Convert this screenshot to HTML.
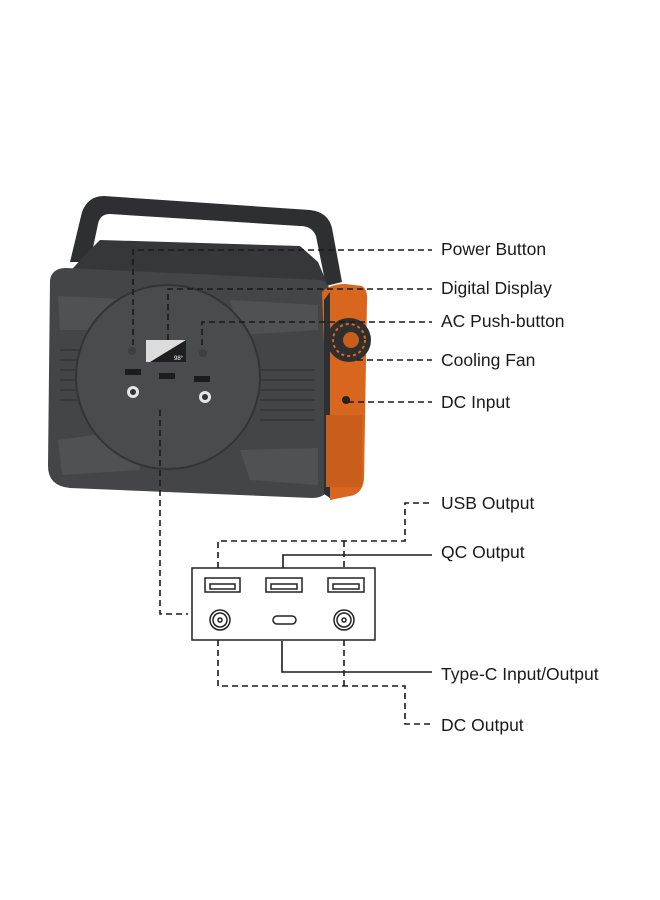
<!DOCTYPE html>
<html><head><meta charset="utf-8"><style>
html,body{margin:0;padding:0;background:#fff;}
svg{display:block;}
text{font-family:"Liberation Sans",sans-serif;font-size:17.5px;fill:#1a1a1a;}
</style></head><body>
<svg width="660" height="900" viewBox="0 0 660 900" xmlns="http://www.w3.org/2000/svg">
<!-- handle -->
<path d="M70 262 L82 212 Q88 196 104 196 L310 210 Q328 212 332 228 L342 282 L326 286 L316 236 Q312 226 300 226 L110 214 Q100 214 98 224 L90 262 Z" fill="#2e2f31"/>
<!-- top lid -->
<path d="M88 252 L100 240 L300 246 L318 262 L330 290 L60 282 Z" fill="#363739"/>
<!-- body -->
<path d="M50 280 Q52 268 66 268 L320 280 Q330 282 330 296 L330 480 Q330 498 312 498 L70 488 Q48 486 48 466 Z" fill="#444547"/>
<path d="M58 296 L140 300 L130 330 L60 330 Z" fill="#505153"/>
<path d="M58 440 L130 430 L140 470 L62 475 Z" fill="#505153"/>
<path d="M230 300 L318 305 L318 330 L240 335 Z" fill="#505153"/>
<path d="M240 450 L318 448 L318 485 L250 480 Z" fill="#505153"/>
<g stroke="#333436" stroke-width="1.5">
<line x1="60" y1="350" x2="100" y2="350"/><line x1="60" y1="360" x2="100" y2="360"/><line x1="60" y1="370" x2="100" y2="370"/><line x1="60" y1="380" x2="100" y2="380"/><line x1="60" y1="390" x2="100" y2="390"/><line x1="60" y1="400" x2="100" y2="400"/>
<line x1="260" y1="370" x2="315" y2="370"/><line x1="260" y1="380" x2="315" y2="380"/><line x1="260" y1="390" x2="315" y2="390"/><line x1="260" y1="400" x2="315" y2="400"/><line x1="260" y1="410" x2="315" y2="410"/><line x1="260" y1="420" x2="315" y2="420"/>
</g>
<!-- circle panel -->
<circle cx="168" cy="377" r="92" fill="#4a4b4d" stroke="#333436" stroke-width="2"/>
<!-- display -->
<path d="M146 340 L186 340 L186 362 L146 362 Z" fill="#dcdcdc"/>
<path d="M186 340 L186 362 L150 362 Z" fill="#1f1f1f"/>
<text x="174" y="360" style="font-size:6px;fill:#fff">98°</text>
<circle cx="132" cy="351" r="4" fill="#3e3f41"/><circle cx="203" cy="353" r="4" fill="#3e3f41"/>
<rect x="125" y="369" width="16" height="6" fill="#1c1c1c"/><rect x="159" y="373" width="16" height="6" fill="#1c1c1c"/><rect x="194" y="376" width="16" height="6" fill="#1c1c1c"/>
<circle cx="133" cy="392" r="6" fill="#e6e6e6"/><circle cx="133" cy="392" r="3" fill="#333"/>
<circle cx="205" cy="397" r="6" fill="#e6e6e6"/><circle cx="205" cy="397" r="3" fill="#333"/>
<!-- orange side -->
<path d="M322 292 Q330 284 345 284 L362 286 Q368 290 367 300 L364 480 Q362 494 350 496 L330 500 Z" fill="#d9661f"/>
<path d="M324 300 L330 292 L330 498 L324 494 Z" fill="#2e2f31"/>
<circle cx="349" cy="340" r="22" fill="#2f2f2f"/>
<circle cx="349" cy="340" r="16" fill="none" stroke="#d9661f" stroke-width="2" stroke-dasharray="3,3"/>
<circle cx="351" cy="340" r="8" fill="#c95d1b"/>
<circle cx="346" cy="400" r="4" fill="#222"/>
<rect x="326" y="415" width="36" height="72" fill="#c95d1b"/>
<!-- device leaders -->
<g stroke="#1a1a1a" stroke-width="1.6" stroke-dasharray="6,4" fill="none">
<polyline points="133,345 133,250 432,250"/>
<polyline points="168,340 168,289 432,289"/>
<polyline points="202,345 202,322 432,322"/>
<line x1="357" y1="360" x2="432" y2="360"/>
<line x1="348" y1="402" x2="432" y2="402"/>
<polyline points="160,410 160,614 188,614"/>
<polyline points="218,568 218,541 405,541 405,503 432,503"/>
<line x1="344" y1="541" x2="344" y2="568"/>
<polyline points="218,640 218,686 405,686 405,724 432,724"/>
<line x1="344" y1="640" x2="344" y2="686"/>
</g>
<g stroke="#1a1a1a" stroke-width="1.6" fill="none">
<polyline points="283,568 283,555 432,555"/>
<polyline points="282,641 282,672 432,672"/>
</g>
<!-- port box -->
<rect x="192" y="568" width="183" height="72" fill="#fff" stroke="#222" stroke-width="1.5"/>
<g fill="none" stroke="#222" stroke-width="1.5">
<rect x="205" y="578" width="35" height="14"/><rect x="210" y="584" width="25" height="5"/>
<rect x="266" y="578" width="36" height="14"/><rect x="271" y="584" width="26" height="5"/>
<rect x="328" y="578" width="36" height="14"/><rect x="333" y="584" width="26" height="5"/>
<circle cx="220" cy="620" r="10"/><circle cx="220" cy="620" r="7"/><circle cx="220" cy="620" r="2"/>
<circle cx="344" cy="620" r="10"/><circle cx="344" cy="620" r="7"/><circle cx="344" cy="620" r="2"/>
<rect x="273" y="616" width="23" height="8" rx="4"/>
</g>
<text x="441" y="255">Power Button</text>
<text x="441" y="294">Digital Display</text>
<text x="441" y="327">AC Push-button</text>
<text x="441" y="366">Cooling Fan</text>
<text x="441" y="408">DC Input</text>
<text x="441" y="509">USB Output</text>
<text x="441" y="558">QC Output</text>
<text x="441" y="680">Type-C Input/Output</text>
<text x="441" y="731">DC Output</text>
</svg>
</body></html>
